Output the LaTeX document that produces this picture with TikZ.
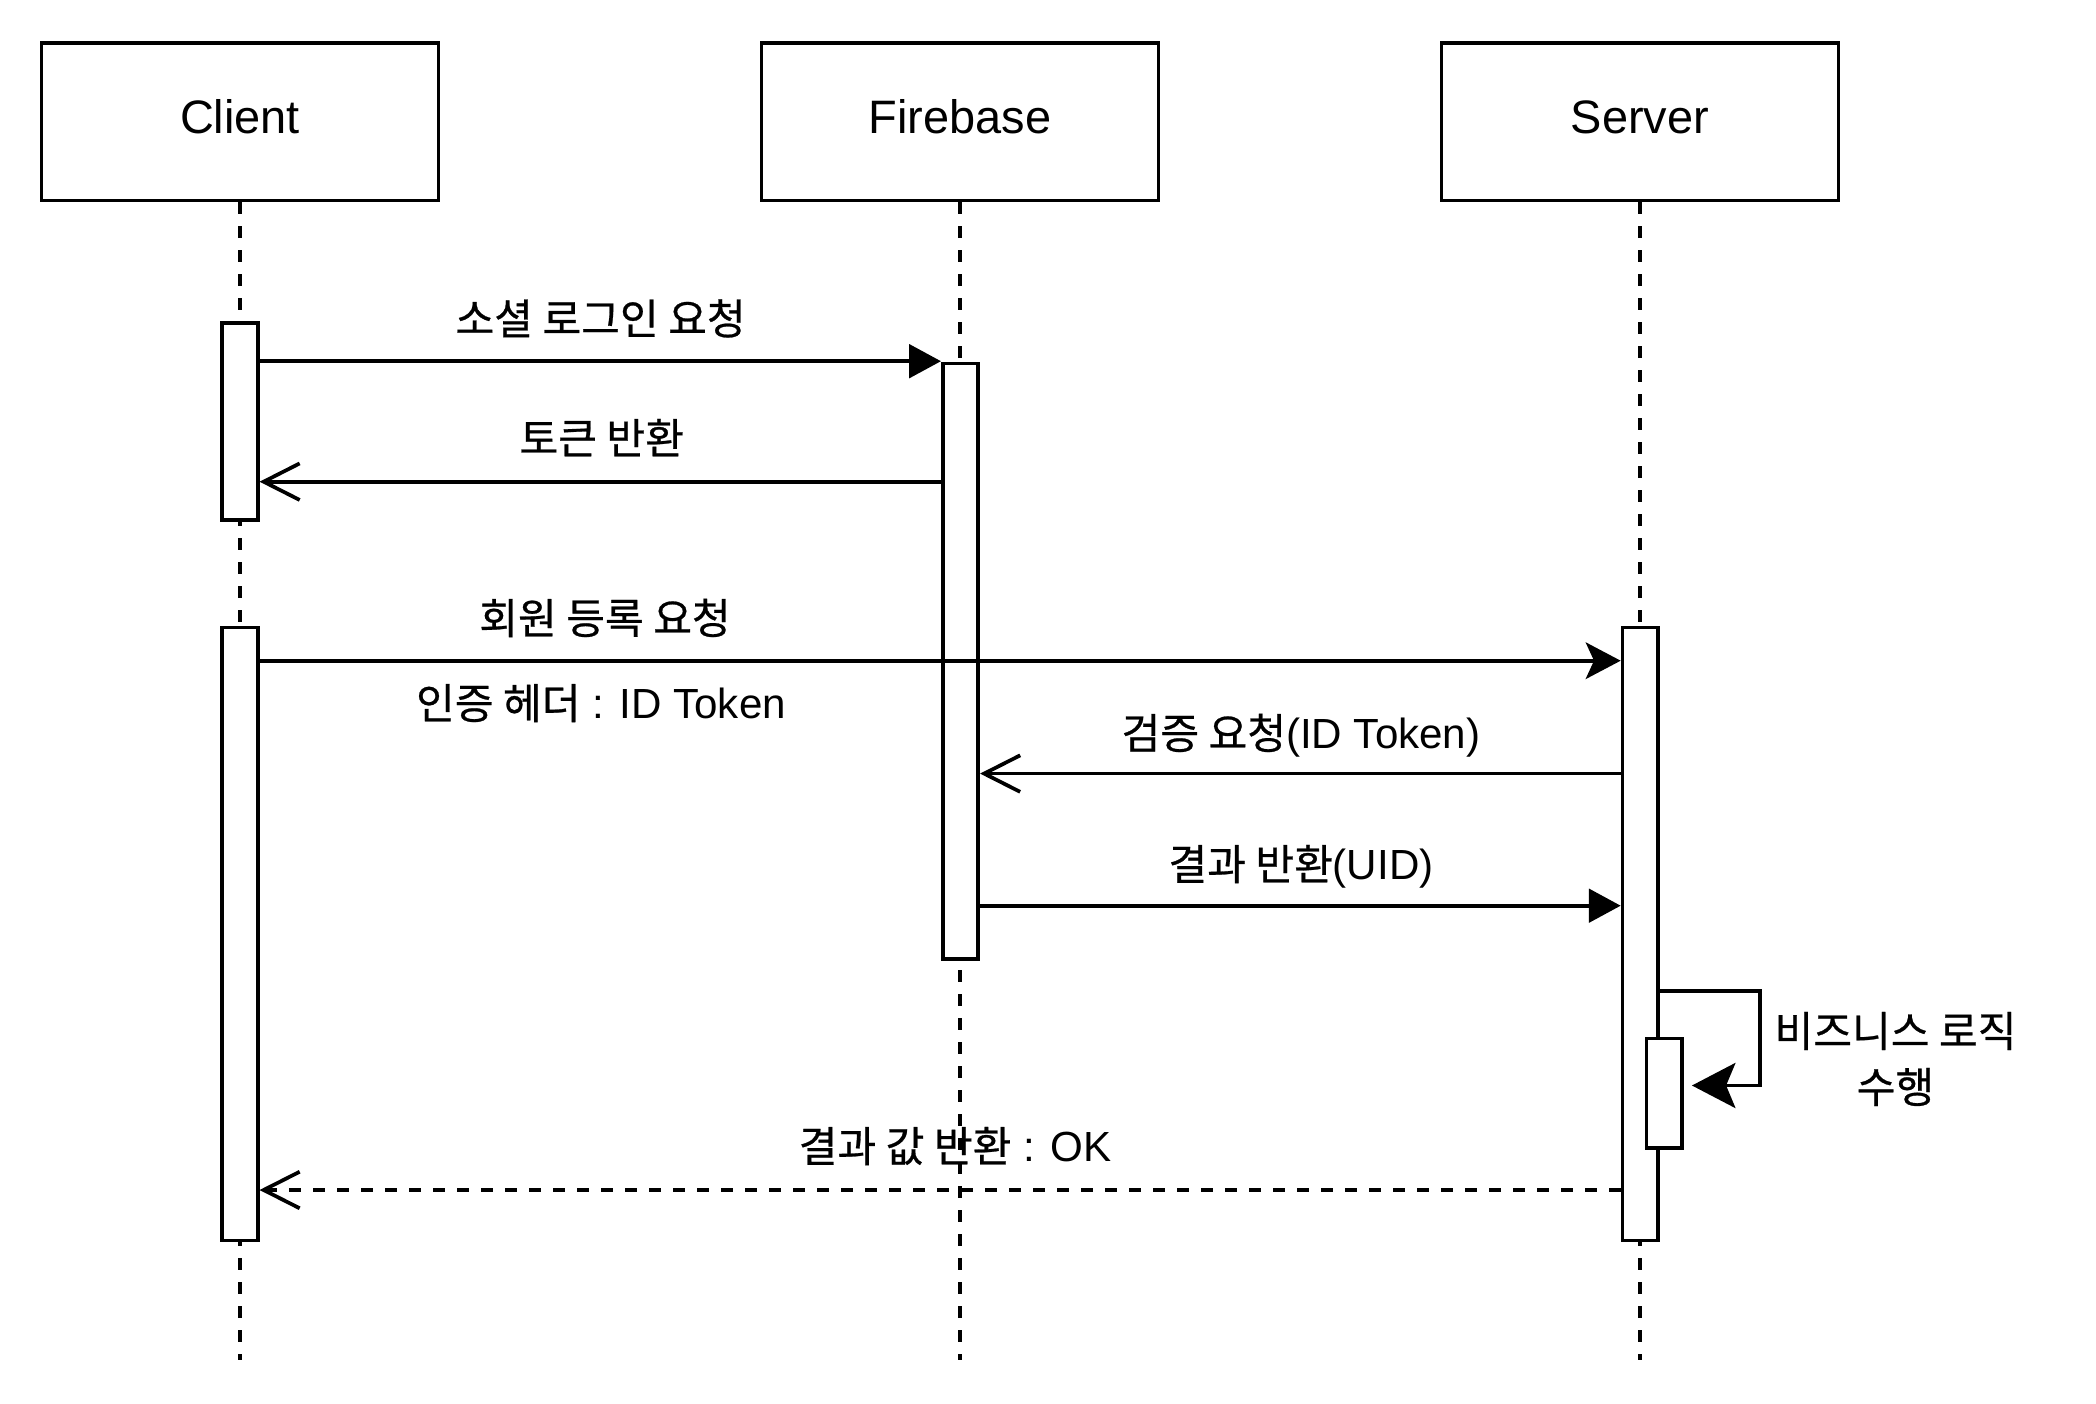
\documentclass[tikz,border=0pt]{standalone}
\usepackage{fontspec}
\setmainfont{Liberation Sans}
\newfontfamily\kr[Scale=1.0,FakeBold=0.6]{Noto Sans CJK KR}
\usetikzlibrary{arrows.meta}
\begin{document}
\begin{tikzpicture}[x=0.375pt,y=-0.375pt,
  head/.style={draw, line width=1.35pt, minimum width=148.9pt, minimum height=59.1pt, inner sep=0pt,
    font=\fontsize{17.6}{20}\selectfont, text height=0.9em, text depth=0.05em},
  act/.style={draw, fill=white, line width=1.35pt, minimum width=13.3pt, inner sep=0pt},
  life/.style={line width=1.5pt, dash pattern=on 4.5pt off 4.5pt},
  lab/.style={inner sep=0pt, font=\fontsize{15.8}{21}\selectfont, text height=0.8em, text depth=0.06em},
  labml/.style={inner sep=0pt, font=\fontsize{15.8}{21}\selectfont, align=center},
  msg/.style={line width=1.4pt},
  tri/.style={-{Triangle[length=11.9pt,width=12.5pt]}},
  opn/.style={-{Straight Barb[length=13.5pt,width=13.7pt]}},
  stl/.style={-{Stealth[length=13.1pt,width=13.7pt,inset=3.1pt]}},
  selfarr/.style={-{Stealth[length=16.3pt,width=16.9pt,inset=3.5pt]}},
  ret/.style={line width=1.4pt, dash pattern=on 4.5pt off 4.5pt}
]
\useasboundingbox (0,0) rectangle (2096,1404);

% participants
\node[head] (client) at (240,121.75) {Client};
\node[head] (fire) at (960,121.75) {Firebase};
\node[head] (server) at (1640,121.75) {Server};

% lifelines
\coordinate (cEnd) at (240,1360);
\coordinate (fEnd) at (960,1360);
\coordinate (sEnd) at (1640,1360);
\draw[life] (client.south) -- (cEnd);
\draw[life] (fire.south) -- (fEnd);
\draw[life] (server.south) -- (sEnd);

% activation bars
\node[act, minimum height=73.7pt] (ca1) at (240,421.5) {};
\node[act, minimum height=229.9pt] (ca2) at (240,934) {};
\node[act, minimum height=223.4pt] (fa) at (960.5,661.25) {};
\node[act, minimum height=229.9pt] (sa) at (1640.2,934) {};
\node[act, minimum height=41pt] (na) at (1664.4,1093.3) {};

% messages
\draw[msg,tri] (ca1.east |- 0,361.2) -- (fa.west |- 0,361.2);
\node[lab] (l1) at (600.6,324.5) {{\kr 소셜 로그인 요청}};

\draw[msg,opn] (fa.west |- 0,481.7) -- (ca1.east |- 0,481.7);
\node[lab] (l2) at (601.7,444) {{\kr 토큰 반환}};

\draw[msg,stl] (ca2.east |- 0,660.7) -- (sa.west |- 0,660.7);
\node[lab] (l3) at (605,624) {{\kr 회원 등록 요청}};
\node[lab] (l4) at (601,709) {{\kr 인증 헤더} : ID Token};

\draw[msg,opn] (sa.west |- 0,773.6) -- (fa.east |- 0,773.6);
\node[lab] (l5) at (1301,739) {{\kr 검증 요청}(ID Token)};

\draw[msg,tri] (fa.east |- 0,905.7) -- (sa.west |- 0,905.7);
\node[lab] (l6) at (1301,870) {{\kr 결과 반환}(UID)};

% self call
\coordinate (selfR) at (1760,991);
\draw[msg,selfarr,shorten >=3pt] (sa.east |- 0,991) -- (selfR) |- (na.east |- 0,1085.5);
\node[labml] (l7) at (1895.5,1059) {{\kr 비즈니스 로직}\\{\kr 수행}};

% return
\draw[ret,opn] (sa.west |- 0,1190) -- (ca2.east |- 0,1190);
\node[lab] (l8) at (955,1152) {{\kr 결과 값 반환} : OK};
\end{tikzpicture}
\end{document}
